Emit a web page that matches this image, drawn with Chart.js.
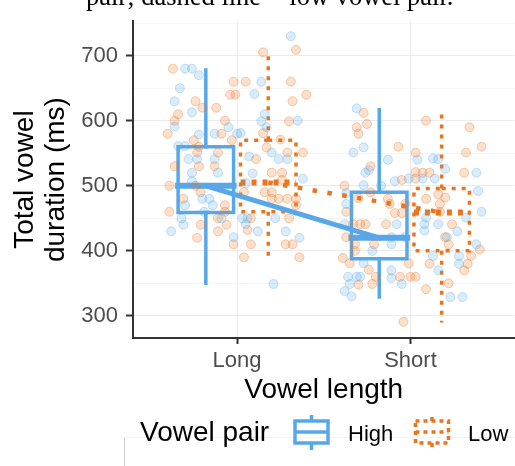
<!DOCTYPE html>
<html>
<head>
<meta charset="utf-8">
<script src="https://cdn.jsdelivr.net/npm/chart.js@4/dist/chart.umd.min.js"></script>
<style>
  html, body { margin: 0; padding: 0; background: #fff; overflow: hidden; width: 515px; height: 466px; }
  #wrap { position: relative; width: 515px; height: 466px; overflow: hidden; background: #fff; }
  #frame { position: absolute; left: 124px; top: 437px; width: 420px; height: 40px; z-index: 0;
           border-left: 1px solid #cfcfcf; border-top: 1px solid #f3f3f3; }
  canvas { position: absolute; left: 0; top: 0; z-index: 1; }
  #caption { position: absolute; left: 86px; top: -19px; z-index: 2; font-family: "Liberation Serif", "Times New Roman", serif;
             font-size: 26.5px; line-height: 30px; white-space: nowrap; color: #000; }
</style>
</head>
<body>
<div id="wrap">
  <div id="frame"></div>
  <canvas id="c" width="520" height="466"></canvas>
  <div id="caption">pair; dashed line = low vowel pair.</div>
</div>
<script>
// Categories and groups
const categories = ['Long', 'Short'];
const pairs = ['High', 'Low'];

// y-axis tick values (labelled) and grid values (incl. minor lines)
const yTickLabels = [300, 400, 500, 600, 700];
const yGridValues = [300, 350, 400, 450, 500, 550, 600, 650, 700, 750];

// Box-plot summaries, one entry per category [Long, Short]
const highLower  = [350, 329];
const highQ1     = [459, 388];
const highMedian = [500, 420];
const highQ3     = [560, 490];
const highUpper  = [678, 617];

const lowLower  = [390, 290];
const lowQ1     = [460, 400];
const lowMedian = [505, 459];
const lowQ3     = [570, 496];
const lowUpper  = [705, 612];

// Individual tokens: [horizontal jitter, duration in ms]
const highLongPts = [[-0.30,680],[-0.26,680],[-0.22,670],[-0.33,650],[-0.36,630],[-0.26,613],[-0.36,591],[-0.05,590],
  [-0.13,580],[-0.22,579],[0.00,580],[-0.34,561],[-0.30,561],[-0.28,541],[-0.23,541],[-0.13,541],[-0.26,520],[-0.11,520],
  [-0.26,507],[-0.20,480],[-0.16,480],[-0.30,470],[-0.14,470],[-0.19,460],[-0.32,450],[-0.09,450],[-0.31,440],[-0.38,430],
  [-0.02,421],[0.31,730],[0.14,660],[0.10,641],[0.16,610],[0.35,600],[0.14,599],[0.02,581],[0.17,590],[0.20,551],[0.07,545],
  [0.24,541],[0.29,541],[0.09,519],[0.38,511],[0.05,504],[0.03,450],[0.06,450],[0.22,450],[0.05,441],[0.12,430],[0.28,430],
  [0.36,420],[0.21,349]];
const lowLongPts = [[-0.37,680],[-0.02,660],[-0.04,640],[-0.01,640],[-0.24,630],[-0.12,620],[-0.20,620],[-0.34,610],
  [-0.36,600],[-0.40,580],[-0.07,600],[-0.09,580],[-0.25,570],[-0.03,570],[-0.22,560],[-0.11,551],[-0.23,551],[-0.36,530],
  [-0.22,530],[-0.13,530],[-0.39,500],[-0.24,500],[-0.21,490],[-0.31,480],[-0.07,470],[-0.39,460],[-0.07,460],[-0.11,450],
  [-0.21,440],[-0.06,440],[-0.11,430],[-0.23,420],[-0.02,410],[0.15,705],[0.34,709],[0.05,660],[0.31,660],[0.32,630],
  [0.40,640],[0.30,599],[0.15,581],[0.25,571],[0.17,559],[0.29,551],[0.38,551],[0.11,541],[0.20,520],[0.26,520],[0.26,509],
  [0.16,490],[0.20,490],[0.04,490],[0.20,480],[0.24,480],[0.29,480],[0.34,480],[0.34,470],[0.08,450],[0.30,450],[0.06,432],
  [0.08,410],[0.28,410],[0.32,410],[0.04,390],[0.36,390]];
const highShortPts = [[-0.31,619],[-0.27,559],[-0.33,551],[-0.13,540],[0.04,540],[-0.24,524],[-0.26,520],[-0.01,511],
  [-0.09,507],[-0.27,501],[-0.17,500],[-0.37,489],[-0.37,472],[-0.38,441],[-0.08,441],[-0.11,421],[-0.03,421],[-0.11,410],
  [-0.22,400],[-0.27,381],[-0.11,370],[-0.36,360],[-0.31,360],[-0.29,360],[-0.11,358],[-0.35,349],[-0.05,349],[-0.38,338],
  [-0.34,330],[0.13,542],[0.16,541],[0.20,526],[0.38,520],[0.14,511],[0.07,511],[0.39,492],[0.41,460],[0.32,451],[0.09,451],
  [0.16,441],[0.08,441],[0.08,431],[0.27,430],[0.21,421],[0.38,410],[0.13,392],[0.28,392],[0.28,380],[0.16,370],[0.23,329],
  [0.30,329]];
const lowShortPts = [[-0.27,612],[-0.31,590],[-0.25,595],[-0.30,580],[0.09,600],[-0.07,560],[0.03,551],[-0.23,530],
  [0.03,521],[-0.05,509],[0.03,511],[-0.38,500],[-0.23,490],[-0.30,481],[-0.13,480],[-0.12,472],[-0.03,472],[-0.37,460],
  [-0.33,441],[-0.29,441],[-0.26,441],[-0.14,441],[-0.09,458],[-0.05,458],[-0.37,421],[-0.32,410],[-0.21,410],[-0.32,400],
  [-0.39,389],[-0.35,381],[-0.24,371],[-0.01,381],[-0.06,360],[0.00,360],[0.03,360],[-0.20,360],[-0.30,348],[-0.22,349],
  [-0.04,291],[0.34,590],[0.41,560],[0.32,551],[0.07,520],[0.11,520],[0.31,520],[0.16,487],[0.20,482],[0.17,472],[0.09,480],
  [0.17,460],[0.24,441],[0.20,421],[0.22,410],[0.40,402],[0.35,392],[0.11,380],[0.33,380],[0.31,370],[0.22,350],[0.09,341]];

// Styling
const SANS = '"Liberation Sans", Arial, Helvetica, sans-serif';
const BLUE = 'rgb(88,167,233)';
const ORANGE = 'rgb(235,116,30)';
const BLUE_FILL = 'rgba(88,167,233,0.22)';
const BLUE_EDGE = 'rgba(88,167,233,0.32)';
const ORANGE_FILL = 'rgba(235,116,30,0.22)';
const ORANGE_EDGE = 'rgba(235,116,30,0.34)';
const DODGE = [-0.18, 0.18];
const BOX_W = 0.32;

const groups = [
  { name: pairs[0], color: BLUE, fill: BLUE_FILL, edge: BLUE_EDGE, dash: [], medDash: [], lineDash: [],
    lower: highLower, q1: highQ1, median: highMedian, q3: highQ3, upper: highUpper, pts: [highLongPts, highShortPts] },
  { name: pairs[1], color: ORANGE, fill: ORANGE_FILL, edge: ORANGE_EDGE, dash: [4, 6], medDash: [5, 6], lineDash: [4.5, 10.5],
    lower: lowLower, q1: lowQ1, median: lowMedian, q3: lowQ3, upper: lowUpper, pts: [lowLongPts, lowShortPts] }
];

function lineSet(data, color, width, dash, order) {
  return {
    data, showLine: true, borderColor: color, borderWidth: width, borderDash: dash,
    borderCapStyle: dash.length ? 'butt' : 'square', borderJoinStyle: 'miter',
    pointRadius: 0, pointHoverRadius: 0, fill: false, tension: 0, order
  };
}

const datasets = [];
groups.forEach((g, gi) => {
  categories.forEach((cat, ci) => {
    const cx = ci + 1 + DODGE[gi];
    const x0 = cx - BOX_W / 2, x1 = cx + BOX_W / 2;
    // box outline
    datasets.push(lineSet([
      { x: cx, y: g.q3[ci] }, { x: x1, y: g.q3[ci] }, { x: x1, y: g.q1[ci] },
      { x: x0, y: g.q1[ci] }, { x: x0, y: g.q3[ci] }, { x: cx, y: g.q3[ci] }
    ], g.color, 3.5, g.dash, 3));
    // whiskers, drawn outward from the hinges
    datasets.push(lineSet([{ x: cx, y: g.q3[ci] }, { x: cx, y: g.upper[ci] }], g.color, 3.5, g.dash, 3));
    datasets.push(lineSet([{ x: cx, y: g.q1[ci] }, { x: cx, y: g.lower[ci] }], g.color, 3.5, g.dash, 3));
    // median
    datasets.push(lineSet([{ x: x0, y: g.median[ci] }, { x: x1, y: g.median[ci] }], g.color, 6, g.medDash, 2));
  });
});
// jittered tokens
groups.forEach((g) => {
  categories.forEach((cat, ci) => {
    datasets.push({
      data: g.pts[ci].map(([j, v]) => ({ x: ci + 1 + j, y: v })),
      pointRadius: 4.5, pointHoverRadius: 4.5, pointBorderWidth: 1,
      backgroundColor: g.fill, borderColor: g.edge, showLine: false, order: 1
    });
  });
});
// lines joining the medians of each vowel pair
groups.forEach((g, gi) => {
  datasets.push(lineSet(categories.map((c, ci) => ({ x: ci + 1 + DODGE[gi], y: g.median[ci] })),
    g.color, gi === 0 ? 5 : 4.5, g.lineDash, 0));
});

// Legend with box-plot keys
function drawKey(ctx, cx, cy, color, dash) {
  ctx.save();
  ctx.strokeStyle = color;
  ctx.lineWidth = 3.5;
  ctx.setLineDash(dash);
  ctx.lineCap = 'butt';
  ctx.beginPath();
  ctx.moveTo(cx, cy - 11); ctx.lineTo(cx, cy - 17);
  ctx.moveTo(cx, cy + 11); ctx.lineTo(cx, cy + 18);
  ctx.stroke();
  ctx.beginPath();
  ctx.rect(cx - 16.5, cy - 11, 33, 22);
  ctx.stroke();
  ctx.beginPath();
  ctx.moveTo(cx - 16.5, cy); ctx.lineTo(cx + 16.5, cy);
  ctx.stroke();
  ctx.restore();
}
const legendPlugin = {
  id: 'pairLegend',
  afterDraw(chart) {
    const ctx = chart.ctx;
    ctx.save();
    ctx.fillStyle = '#000';
    ctx.textBaseline = 'alphabetic';
    ctx.font = '28px ' + SANS;
    ctx.fillText('Vowel pair', 140, 441);
    drawKey(ctx, 311.5, 432, BLUE, []);
    drawKey(ctx, 432, 432, ORANGE, [4, 4]);
    ctx.font = '22px ' + SANS;
    ctx.fillText(pairs[0], 348, 441);
    ctx.fillText(pairs[1], 468, 441);
    ctx.restore();
  }
};

new Chart(document.getElementById('c'), {
  type: 'scatter',
  data: { datasets },
  plugins: [legendPlugin],
  options: {
    responsive: false,
    animation: false,
    events: [],
    devicePixelRatio: 1,
    layout: { padding: { top: 7, right: 3, left: 0, bottom: 0 } },
    plugins: { legend: { display: false }, tooltip: { enabled: false } },
    scales: {
      x: {
        type: 'linear', min: 0.4, max: 2.6,
        afterBuildTicks: (s) => { s.ticks = categories.map((c, i) => ({ value: i + 1 })); },
        afterFit: (s) => { s.height = 128; },
        ticks: { callback: (v) => categories[v - 1], font: { family: SANS, size: 22 }, color: '#4d4d4d',
                 padding: 3.5, maxRotation: 0, autoSkip: false },
        grid: { color: '#ececec', lineWidth: 1, tickLength: 6, tickColor: '#333', tickWidth: 2 },
        border: { color: '#333', width: 2 },
        title: { display: true, text: 'Vowel length', font: { family: SANS, size: 28 }, color: '#000',
                 padding: { top: 0, bottom: 59 } }
      },
      y: {
        min: 266, max: 753,
        afterBuildTicks: (s) => { s.ticks = yGridValues.map((v) => ({ value: v })); },
        afterFit: (s) => { s.width = 133; },
        ticks: { callback: (v) => (yTickLabels.includes(v) ? String(v) : ''), font: { family: SANS, size: 22 },
                 color: '#4d4d4d', padding: 8, autoSkip: false },
        grid: {
          color: (c) => (yTickLabels.includes(c.tick.value) ? '#ebebeb' : '#f5f5f5'),
          tickColor: (c) => (yTickLabels.includes(c.tick.value) ? '#333' : 'rgba(0,0,0,0)'),
          lineWidth: 1, tickLength: 7, tickWidth: 2
        },
        border: { color: '#333', width: 2 },
        title: { display: true, text: ['Total vowel', 'duration (ms)'], font: { family: SANS, size: 28, lineHeight: 1.1 },
                 color: '#000', padding: { top: 10, bottom: 0 } }
      }
    }
  }
});
</script>
</body>
</html>
